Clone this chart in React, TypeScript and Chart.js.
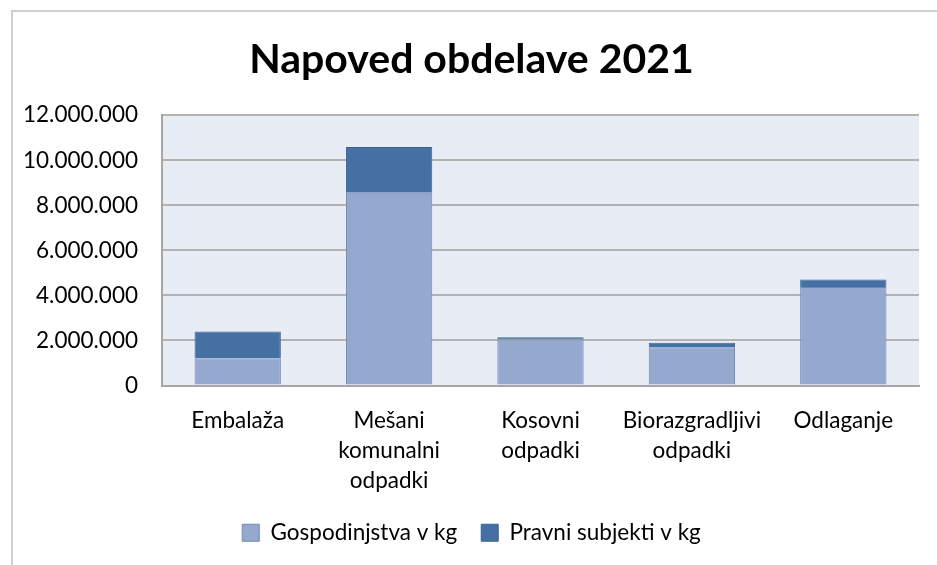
import React, { useEffect, useRef } from "react";
import { Chart, registerables } from "chart.js";

Chart.register(...registerables);

const title = "Napoved obdelave 2021";
const categories: (string | string[])[] = [
  "Embalaža",
  ["Mešani", "komunalni", "odpadki"],
  ["Kosovni", "odpadki"],
  ["Biorazgradljivi", "odpadki"],
  "Odlaganje",
];
const seriesNames = ["Gospodinjstva v kg", "Pravni subjekti v kg"];
const gospodinjstva = [1200000, 8560000, 2040000, 1700000, 4370000];
const pravniSubjekti = [1200000, 2030000, 100000, 200000, 340000];
const yMax = 12000000;
const yStep = 2000000;

const fmt = (v: number) =>
  Math.round(v).toString().replace(/\B(?=(\d{3})+(?!\d))/g, ".");

const framePlugin = {
  id: "frame",
  beforeDraw(chart: any) {
    const { ctx, chartArea } = chart;
    ctx.save();
    ctx.fillStyle = "#ffffff";
    ctx.fillRect(0, 0, chart.width, chart.height);
    ctx.strokeStyle = "#cfcfcf";
    ctx.lineWidth = 2;
    ctx.beginPath();
    ctx.moveTo(12, chart.height);
    ctx.lineTo(12, 11);
    ctx.lineTo(chart.width, 11);
    ctx.stroke();
    ctx.fillStyle = "#e8ecf4";
    ctx.fillRect(
      chartArea.left,
      chartArea.top,
      chartArea.right - chartArea.left,
      chartArea.bottom - chartArea.top
    );
    ctx.restore();
  },
};

export default function App() {
  const ref = useRef<HTMLCanvasElement | null>(null);
  useEffect(() => {
    if (!ref.current) return;
    Chart.defaults.font.family = "Lato";
    const chart = new Chart(ref.current, {
      type: "bar",
      data: {
        labels: categories,
        datasets: [
          {
            label: seriesNames[0],
            data: gospodinjstva,
            backgroundColor: "#95a9cf",
            borderColor: "#6f87b5",
            borderWidth: 1,
          },
          {
            label: seriesNames[1],
            data: pravniSubjekti,
            backgroundColor: "#4470a3",
            borderColor: "#3b6494",
            borderWidth: 1,
          },
        ],
      },
      options: {
        responsive: false,
        animation: false,
        layout: { padding: { left: 24, right: 18, top: 11, bottom: 11 } },
        datasets: { bar: { categoryPercentage: 1, barPercentage: 0.57 } },
        plugins: {
          tooltip: { enabled: false },
          title: {
            display: true,
            text: title,
            color: "#000",
            font: { size: 41, weight: "bold", family: "Lato", lineHeight: 1.2 },
            padding: { top: 24, bottom: 31 },
          },
          legend: {
            position: "bottom",
            labels: {
              color: "#000",
              font: { size: 22.5, family: "Lato" },
              boxWidth: 17,
              boxHeight: 17,
              padding: 24,
            },
          },
        },
        scales: {
          x: {
            stacked: true,
            grid: { display: false, drawTicks: false },
            border: { display: true, color: "#a6a6a6", width: 2 },
            ticks: {
              color: "#000",
              font: { size: 22.5, family: "Lato", lineHeight: "30px" },
              padding: 20,
              maxRotation: 0,
              autoSkip: false,
            },
            afterFit(scale: any) {
              scale.height = 112;
            },
          },
          y: {
            stacked: true,
            min: 0,
            max: yMax,
            grid: { color: "#b2b2b2", lineWidth: 2, drawTicks: false },
            border: { display: true, color: "#a6a6a6", width: 2 },
            ticks: {
              stepSize: yStep,
              color: "#000",
              font: { size: 22.5, family: "Lato" },
              padding: 24,
              callback: (v: any) => fmt(Number(v)),
            },
            afterFit(scale: any) {
              scale.width = 138;
            },
          },
        },
      },
      plugins: [framePlugin],
    });
    return () => chart.destroy();
  }, []);
  return (
    <div style={{ position: "absolute", left: 0, top: 0, width: 937, height: 565 }}>
      <canvas ref={ref} width={937} height={565} style={{ display: "block" }} />
    </div>
  );
}
